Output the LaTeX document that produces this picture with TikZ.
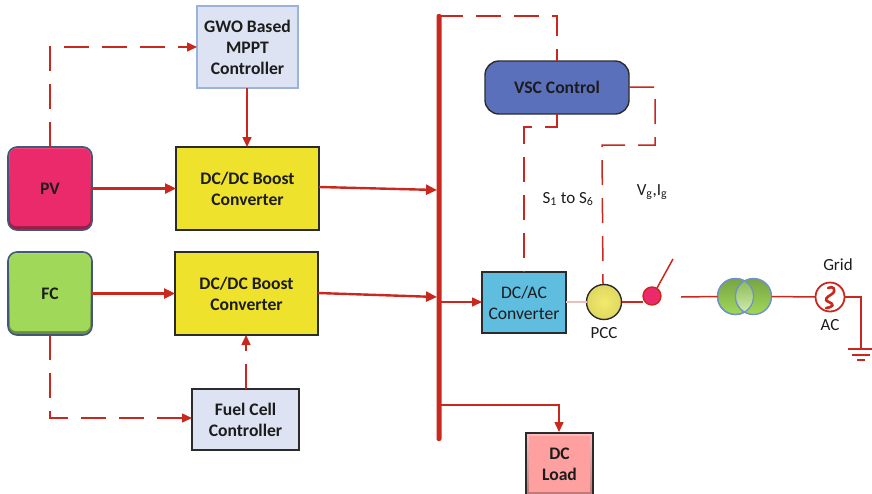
\documentclass[tikz,border=0pt]{standalone}
\usepackage{fontspec}
\setmainfont{Carlito}
\usetikzlibrary{arrows.meta,calc}
\definecolor{wire}{HTML}{C8281E}
\definecolor{dark}{HTML}{2B2B2B}
\definecolor{boxlight}{HTML}{DDE3F3}
\definecolor{pvpink}{HTML}{EB2A6B}
\definecolor{fcgreen}{HTML}{A0D95A}
\definecolor{boostyellow}{HTML}{EEE22C}
\definecolor{vscblue}{HTML}{5B70BB}
\definecolor{acblue}{HTML}{5FBDE0}
\definecolor{loadpink}{HTML}{FFA0A0}
\definecolor{pccyellow}{HTML}{F2EA6A}
\definecolor{ringblue}{HTML}{6F93C8}
\definecolor{inktext}{HTML}{1C1C1C}
\tikzset{
  x=1pt,y=-1pt,
  every node/.style={inner sep=0pt,outer sep=0pt,text=inktext},
  boxlabel/.style={font=\fontsize{17.6}{21}\selectfont\bfseries,align=center},
  plainlabel/.style={font=\fontsize{17}{20}\selectfont},
  block/.style={boxlabel,draw=dark,line width=1.4pt,anchor=north west},
  lightblock/.style={boxlabel,draw=#1,line width=1.4pt,fill=boxlight,anchor=north west},
  bevel/.style={
    top color=#1!85!white,bottom color=#1!65!black,
    path picture={\fill[#1,rounded corners=6pt]
      ($(path picture bounding box.south west)+(2,-4)$) rectangle
      ($(path picture bounding box.north east)+(-2,2)$);}},
  squarebevel/.style={
    top color=#1!70!white,bottom color=#1!75!black,
    path picture={\fill[#1]
      ($(path picture bounding box.south west)+(3,-3)$) rectangle
      ($(path picture bounding box.north east)+(-3,3)$);}},
  source/.style={boxlabel,draw=ringblue!60!black,line width=1.6pt,rounded corners=9pt,anchor=north west,bevel=#1},
  power/.style={draw=wire,line width=2.4pt,-{Triangle[length=11pt,width=10pt]}},
  ctrl/.style={draw=wire,line width=1.5pt,-{Triangle[length=10pt,width=9pt]}},
  sig/.style={draw=wire,line width=1.5pt,dash pattern=on 25pt off 13pt},
  sigarrow/.style={sig,-{Triangle[length=10pt,width=9pt]}},
  thin wire/.style={draw=wire,line width=1.5pt},
  ball/.style={circle,draw=#1,line width=1.4pt,anchor=center},
  earth/.style={draw=wire,line width=2pt},
}
\begin{document}
\begin{tikzpicture}
\useasboundingbox (0,0) rectangle (872,493);
\clip (0,0) rectangle (872,493);
% blocks
\node[lightblock=ringblue!70,minimum width=101pt,minimum height=82pt] (gwo) at (197,6) {GWO Based\\MPPT\\Controller};
\node[source=pvpink,minimum width=84pt,minimum height=83pt] (pv) at (8,147) {PV};
\node[block,fill=boostyellow,minimum width=143pt,minimum height=83pt] (boostone) at (176,147) {DC/DC Boost\\Converter};
\node[source=fcgreen,minimum width=84pt,minimum height=83pt] (fc) at (8,252) {FC};
\node[block,fill=boostyellow,minimum width=143pt,minimum height=83pt] (boosttwo) at (175,252) {DC/DC Boost\\Converter};
\node[lightblock=dark,minimum width=107pt,minimum height=61pt] (fcc) at (192,389) {Fuel Cell\\Controller};
\node[block,fill=vscblue,rounded corners=14pt,minimum width=144pt,minimum height=53pt] (vsc) at (485,61) {VSC Control};
\node[block,fill=acblue,minimum width=84pt,minimum height=61pt,font=\fontsize{17.6}{21}\selectfont] (dcac) at (482,272) {DC/AC\\Converter};
\node[block,line width=2pt,squarebevel=loadpink,minimum width=67pt,minimum height=62pt] (load) at (526,433) {DC\\Load};
\node[fill=wire,rounded corners=2pt,minimum width=5pt,minimum height=427pt,anchor=north] (bus) at (439,14) {};
% named waypoints
\coordinate (pvup) at (50,147);
\coordinate (pvcorner) at (50,47);
\coordinate (gwoin) at (197,47);
\coordinate (gwodown) at (247,88);
\coordinate (boostonetop) at (247,147);
\coordinate (fcdown) at (50,335);
\coordinate (fccorner) at (50,418);
\coordinate (fccin) at (192,418);
\coordinate (fccup) at (246,389);
\coordinate (boosttwobot) at (246,335);
\coordinate (oneout) at (319,187);
\coordinate (onebus) at (437,190);
\coordinate (twoout) at (318,293);
\coordinate (twobus) at (437,297);
\coordinate (busdcac) at (438,302);
\coordinate (dcacin) at (482,302);
\coordinate (bustap) at (438,405);
\coordinate (tapcorner) at (559,405);
\coordinate (loadin) at (559,432);
\coordinate (toptap) at (438,16);
\coordinate (topcorner) at (557,16);
\coordinate (vsctop) at (557,61);
\coordinate (vscbot) at (557,114);
\coordinate (sone) at (557,127);
\coordinate (stwo) at (524,127);
\coordinate (dcactop) at (524,272);
\coordinate (vscr) at (629,87);
\coordinate (vone) at (655,87);
\coordinate (vtwo) at (655,145);
\coordinate (vthree) at (602,145);
\coordinate (pcctop) at (603,284);
% round elements
\node[ball=dark,inner color=pccyellow,outer color=pccyellow!92!black,minimum size=35pt] (pcc) at (604,302) {};
\node[ball=wire,fill=pvpink,minimum size=18pt] (dot) at (652,296) {};
\coordinate (swend) at (673,259);
\coordinate (swstart) at (657,288);
\coordinate (busin) at (681,297);
\node[ball=ringblue,top color=fcgreen!75!black,middle color=fcgreen,bottom color=fcgreen,minimum size=36pt] (tone) at (735.5,296.5) {};
\node[ball=ringblue,top color=fcgreen!75!black,middle color=fcgreen,bottom color=fcgreen,minimum size=36pt] (ttwo) at (753.5,296.5) {};
\begin{scope}
\clip (735.5,296.5) circle[radius=18pt];
\fill[top color=fcgreen!85!black,bottom color=fcgreen!45!white] (753.5,296.5) circle[radius=18pt];
\draw[ringblue,line width=1.2pt] (753.5,296.5) circle[radius=18pt];
\end{scope}
\draw[ringblue,line width=1.2pt] (735.5,296.5) circle[radius=18pt];
\node[circle,draw=wire,line width=1.8pt,fill=white,minimum size=29pt] (acsrc) at (830,297) {};
\draw[wire,line width=2.6pt,line cap=round] ($(acsrc.center)+(-2,-9)$)
  .. controls ($(acsrc.center)+(3,-12)$) and ($(acsrc.center)+(7,-7)$) .. ($(acsrc.center)+(2,-3)$)
  .. controls ($(acsrc.center)+(-3,0)$) and ($(acsrc.center)+(-7,3)$) .. ($(acsrc.center)+(-1,5)$)
  .. controls ($(acsrc.center)+(4,7)$) and ($(acsrc.center)+(4,10)$) .. ($(acsrc.center)+(-4,11)$);
% ground
\coordinate (gndcorner) at (861,297);
\coordinate (gndtop) at (861,349);
\coordinate (gla) at (848,349);
\coordinate (glb) at (872,349);
\coordinate (gma) at (852,355);
\coordinate (gmb) at (870,355);
\coordinate (gsa) at (857,360);
\coordinate (gsb) at (865,360);
% power lines
\draw[power] (pv.east) -- (boostone.west |- pv.east);
\draw[power] (fc.east) -- (boosttwo.west |- fc.east);
\draw[power] (oneout) -- (onebus);
\draw[power] (twoout) -- (twobus);
\draw[ctrl] (gwodown) -- (boostonetop);
\draw[sigarrow] (fccup) -- (boosttwobot);
\draw[ctrl] (busdcac) -- (dcacin);
\draw[ctrl,line join=miter] (bustap) -- (tapcorner) -- (loadin);
% signals
\draw[sigarrow] (pvup) -- (pvcorner) -- (gwoin);
\draw[sigarrow] (fcdown) -- (fccorner) -- (fccin);
\draw[sig] (toptap) -- (topcorner) -- (vsctop);
\draw[sig] (vscbot) -- (sone) -- (stwo) -- (dcactop);
\draw[sig] (vscr) -- (vone) -- (vtwo) -- (vthree) -- (pcctop);
% grid side
\draw[wire!30!white,line width=1.5pt] (dcac.east |- pcc) -- (pcc.west);
\draw[thin wire] (pcc.east) -- (dot.west |- pcc.east);
\draw[thin wire] (swstart) -- (swend);
\draw[thin wire] (busin) -- (tone.west);
\draw[thin wire] (ttwo.east) -- (acsrc.west);
\draw[thin wire] (acsrc.east) -- (gndcorner) -- (gndtop);
\draw[earth] (gla) -- (glb);
\draw[earth] (gma) -- (gmb);
\draw[earth] (gsa) -- (gsb);
% labels
\node[plainlabel] (s16) at (568,199) {S\textsubscript{1} to S\textsubscript{6}};
\node[plainlabel] (vg) at (652,192) {V\textsubscript{g},I\textsubscript{g}};
\node[plainlabel] (pcclabel) at (604,333) {PCC};
\node[plainlabel] (gridlabel) at (838,265) {Grid};
\node[plainlabel] (aclabel) at (830,325) {AC};
\end{tikzpicture}
\end{document}
